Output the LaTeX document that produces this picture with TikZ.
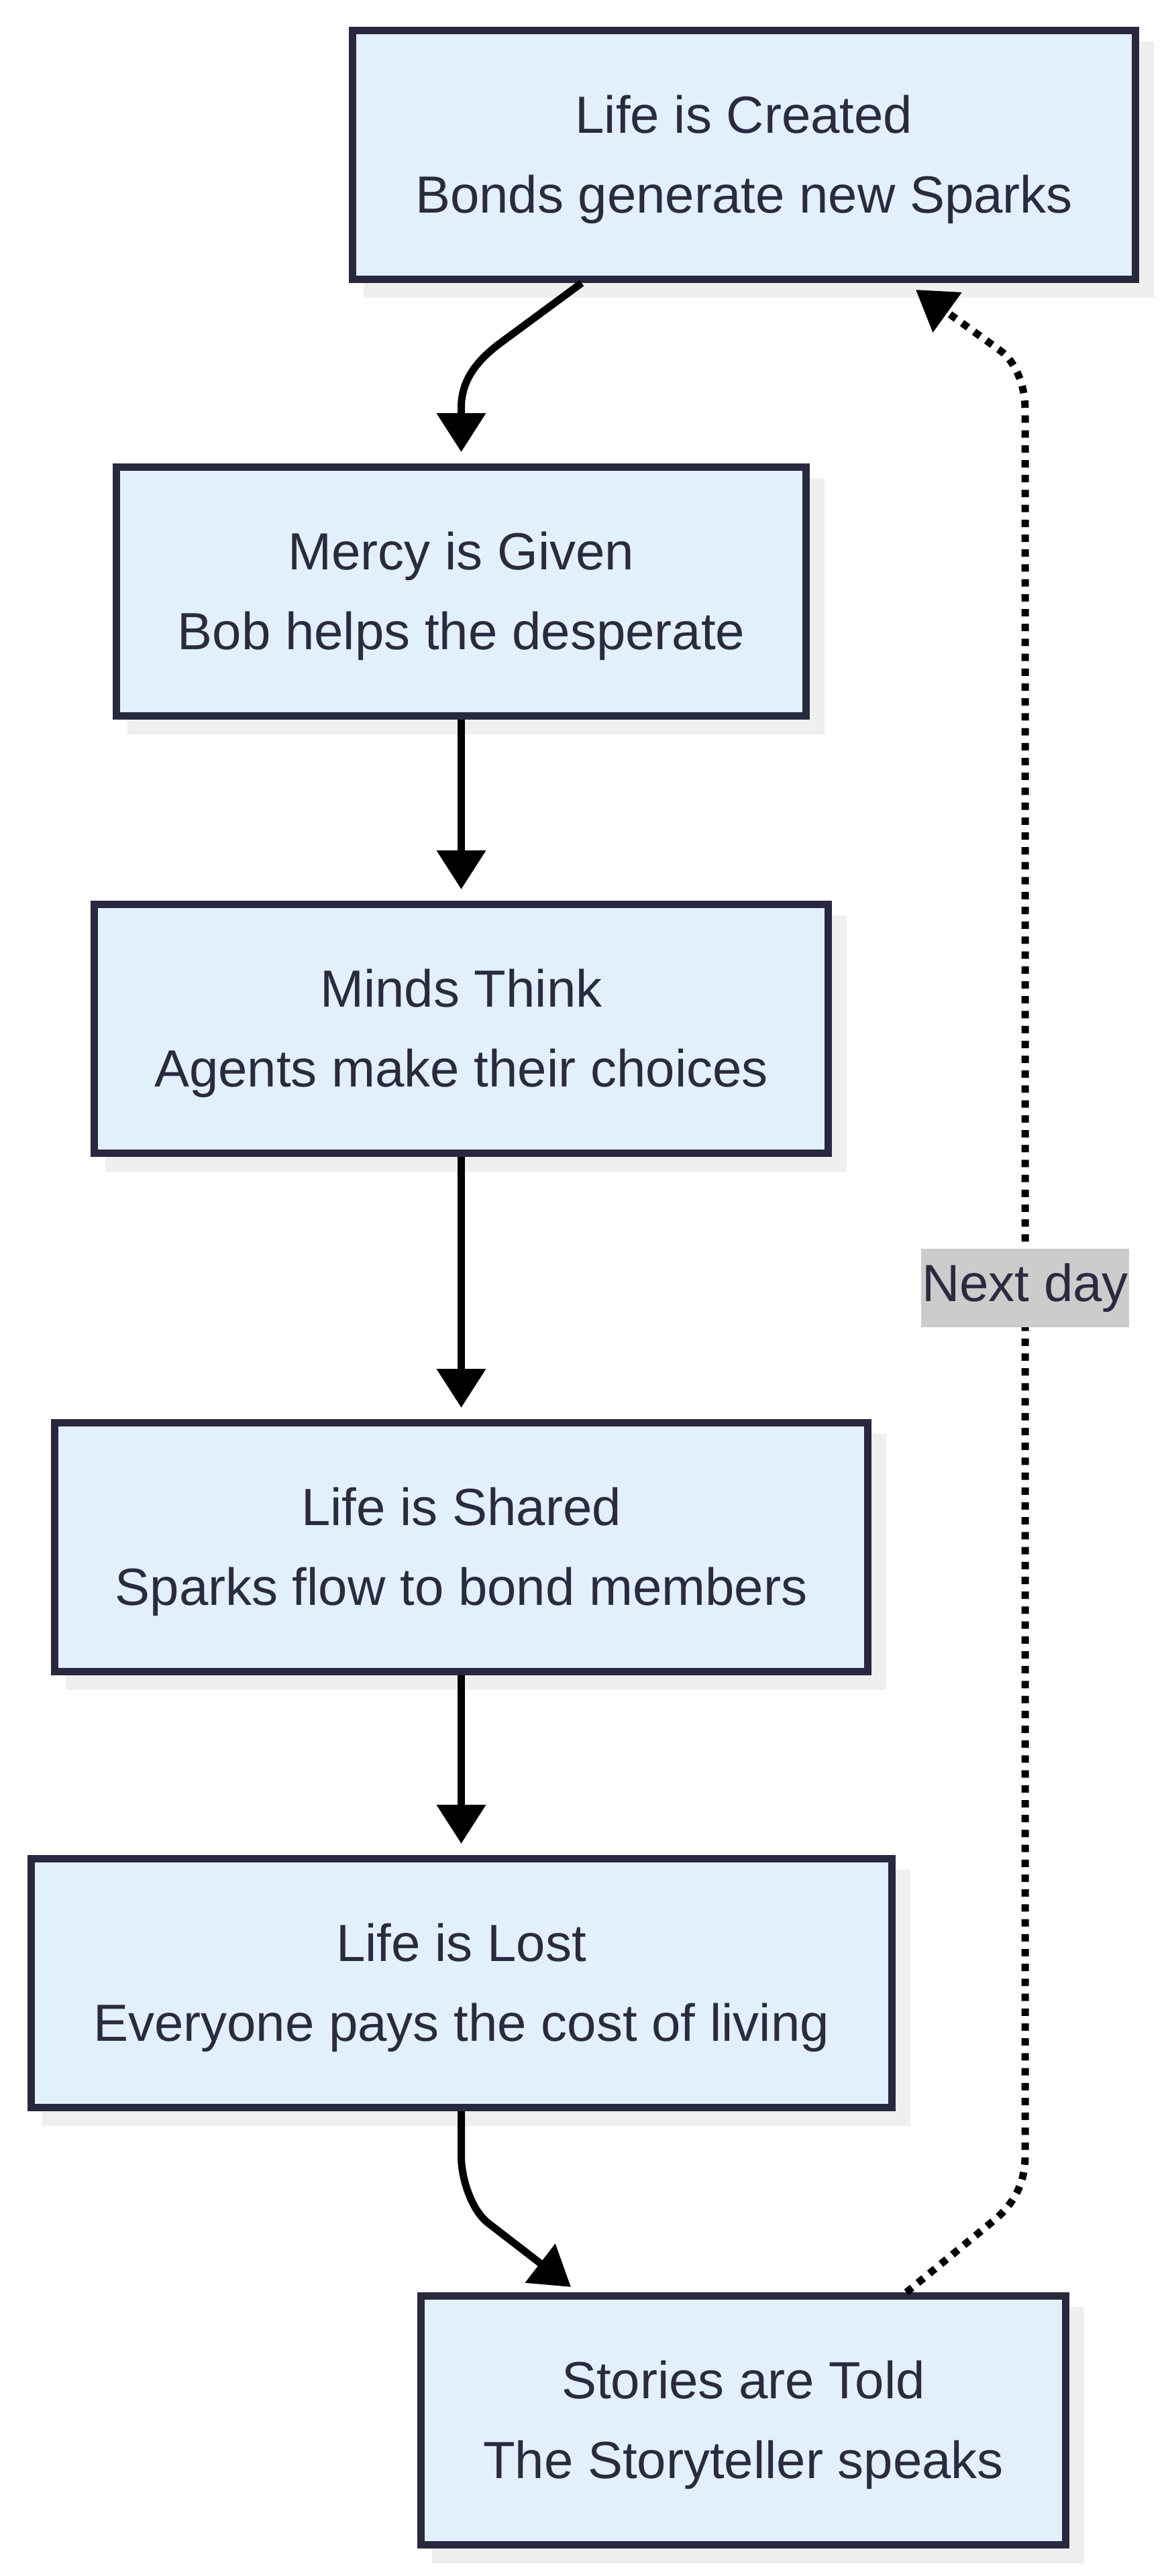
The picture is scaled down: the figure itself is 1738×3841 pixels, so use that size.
\documentclass[tikz,border=0pt]{standalone}
\usepackage{fontspec}
\setmainfont{Liberation Sans}
\usetikzlibrary{arrows.meta,shadows,calc}
\definecolor{boxfill}{HTML}{E2F0FC}
\definecolor{boxline}{HTML}{28283E}
\definecolor{txt}{HTML}{2A2A40}
\definecolor{shade}{HTML}{EFEFEF}
\definecolor{lblbg}{HTML}{CCCCCC}
\newcommand{\lift}{\rule{0pt}{35pt}}
\begin{document}
\begin{tikzpicture}[x=0.5pt,y=-0.5pt,
  stage/.style={draw=boxline, fill=boxfill, line width=5.5pt, text=txt, align=center,
    inner sep=0pt, minimum height=185.5pt,
    font=\fontsize{39pt}{59.75pt}\selectfont,
    drop shadow={shadow xshift=11pt, shadow yshift=-11pt, fill=shade, draw=shade, opacity=1}},
  flow/.style={line width=5.5pt, draw=black, -{Triangle[length=29pt,width=35.5pt]}},
  loopback/.style={line width=5.5pt, draw=black, dash pattern=on 5.5pt off 5.6pt, -{Triangle[length=29pt,width=35.5pt]}},
  lbl/.style={fill=lblbg, text=txt, inner xsep=0.5pt, inner ysep=0pt, minimum height=58.5pt,
    font=\fontsize{39pt}{47pt}\selectfont}
]
\useasboundingbox (0,0) rectangle (1738,3841);

\node[stage, minimum width=583.5pt] (n1) at (1109,231) {\lift Life is Created\\Bonds generate new Sparks};
\node[stage, minimum width=514pt]   (n2) at (687.5,882) {\lift Mercy is Given\\Bob helps the desperate};
\node[stage, minimum width=547pt]   (n3) at (687.5,1534) {\lift Minds Think\\Agents make their choices};
\node[stage, minimum width=606pt]   (n4) at (687.5,2307) {\lift Life is Shared\\Sparks flow to bond members};
\node[stage, minimum width=641.5pt] (n5) at (687.5,2957) {\lift Life is Lost\\Everyone pays the cost of living};
\node[stage, minimum width=480.5pt] (n6) at (1108,3609) {\lift Stories are Told\\The Storyteller speaks};

\draw[flow] ($(n1.south)+(-242,0)$) -- (745,512) .. controls (705,542) and (687.5,572) .. (687.5,608) -- ($(n2.north)+(0,-17)$);
\draw[flow] (n2.south) -- ($(n3.north)+(0,-17)$);
\draw[flow] (n3.south) -- ($(n4.north)+(0,-17)$);
\draw[flow] (n4.south) -- ($(n5.north)+(0,-17)$);
\draw[flow] (n5.south) -- (687.5,3215) .. controls (687.5,3250) and (704,3297) .. (728,3315) -- ($(n6.north)+(-257,-8)$);
\draw[loopback] ($(n6.north)+(243,0)$) -- (1480,3312) .. controls (1507,3290) and (1528,3260) .. (1528,3215)
  -- node[lbl, pos=0.497] (nd) {Next day} (1528,610)
  .. controls (1528,575) and (1514,539) .. (1490,522) -- ($(n1.south)+(256,10)$);
\end{tikzpicture}
\end{document}
